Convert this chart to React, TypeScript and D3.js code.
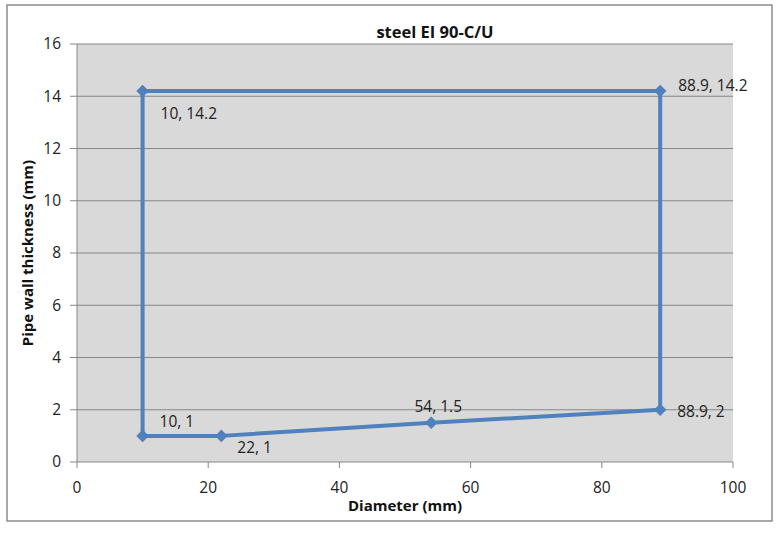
import React from "react";
import * as d3 from "d3";

const xValues = [10, 10, 88.9, 88.9, 54, 22, 10];
const yValues = [1, 14.2, 14.2, 2, 1.5, 1, 1];
const labelText = ["10, 1", "10, 14.2", "88.9, 14.2", "88.9, 2", "54, 1.5", "22, 1", ""];
// label offsets (dx, dy, anchor) per point
const labelDx = [17, 18, 18, 17, 7, 16, 0];
const labelDy = [-14, 23, -5, 2, -16, 12, 0];
const labelAnchor = ["start", "start", "start", "start", "middle", "start", "start"];
const xTicks = [0, 20, 40, 60, 80, 100];
const yTicks = [0, 2, 4, 6, 8, 10, 12, 14, 16];

const W = 782, H = 536;
const font = "'Open Sans', 'Noto Sans', sans-serif";

export default function App() {
  const x = d3.scaleLinear().domain([0, 100]).range([77, 733]);
  const y = d3.scaleLinear().domain([0, 16]).range([462, 44]);
  const line = d3.line<number>().x((_, i) => x(xValues[i])).y((_, i) => y(yValues[i]));
  const diamond = d3.symbol().type(d3.symbolDiamond2).size(100)();
  const pts = xValues.map((v, i) => i);
  return (
    <svg width={W} height={H} style={{ position: "absolute", left: 0, top: 0 }}>
      <rect x={0} y={0} width={W} height={H} fill="#fff" />
      <rect x={7} y={5} width={765} height={516} fill="#fff" stroke="#8c8c8c" strokeWidth={1.5} />
      <rect x={77} y={44} width={656} height={418} fill="#d9d9d9" />
      {yTicks.map((t) => (
        <g key={"y" + t}>
          <line x1={70} x2={733} y1={y(t)} y2={y(t)} stroke="#878787" strokeWidth={1} />
          <text x={61} y={y(t)} dy="0.35em" textAnchor="end" fontFamily={font} fontSize={15.5} fill="#222">{t}</text>
        </g>
      ))}
      <line x1={77} x2={77} y1={44} y2={462} stroke="#878787" />
      {xTicks.map((t) => (
        <g key={"x" + t}>
          <line x1={x(t)} x2={x(t)} y1={462} y2={468} stroke="#878787" />
          <text x={x(t)} y={493} textAnchor="middle" fontFamily={font} fontSize={15.5} fill="#222">{t}</text>
        </g>
      ))}
      <path d={line(pts) || ""} fill="none" stroke="#4f81bd" strokeWidth={4} strokeLinejoin="round" />
      {pts.slice(0, 6).map((i) => (
        <path key={"m" + i} d={diamond || ""} transform={`translate(${x(xValues[i])},${y(yValues[i])})`} fill="#4f81bd" />
      ))}
      {pts.map((i) => labelText[i] ? (
        <text key={"l" + i} x={x(xValues[i]) + labelDx[i]} y={y(yValues[i]) + labelDy[i]} dy="0.35em"
          textAnchor={labelAnchor[i] as any} fontFamily={font} fontSize={15.5} fill="#222">{labelText[i]}</text>
      ) : null)}
      <text x={435} y={38} textAnchor="middle" fontFamily={font} fontSize={16.5} fontWeight="bold" fill="#111">steel EI 90-C/U</text>
      <text x={405} y={511} textAnchor="middle" fontFamily={font} fontSize={15} fontWeight="bold" fill="#111">Diameter (mm)</text>
      <text transform="translate(33,253) rotate(-90)" textAnchor="middle" fontFamily={font} fontSize={15} fontWeight="bold" fill="#111">Pipe wall thickness  (mm)</text>
    </svg>
  );
}
